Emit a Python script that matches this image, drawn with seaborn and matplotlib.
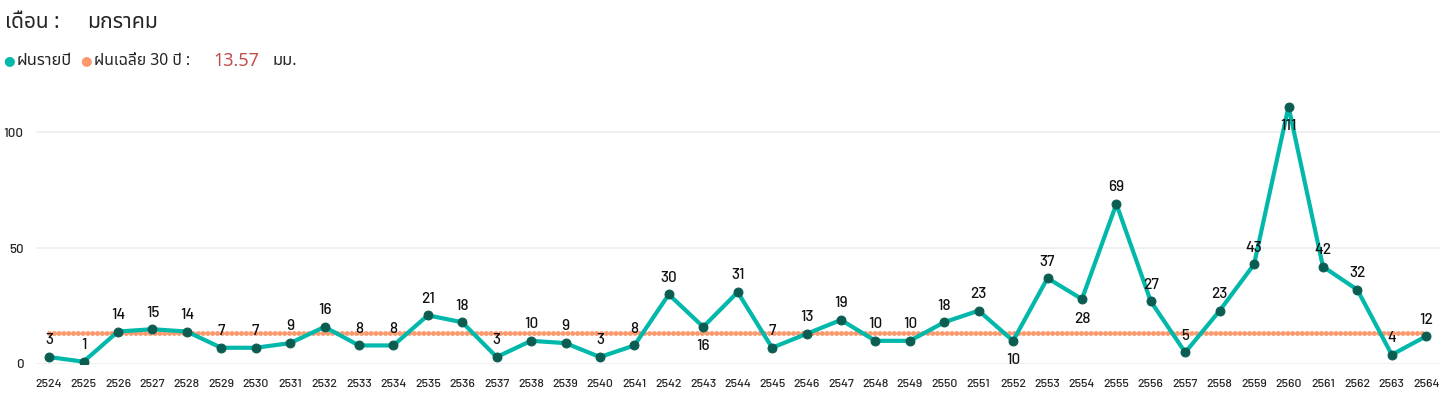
import matplotlib
matplotlib.use("Agg")
import matplotlib.pyplot as plt
import seaborn as sns
import pandas as pd
import numpy as np

# ---------------- data ----------------
years = [str(y) for y in range(2524, 2565)]
rain = [3, 1, 14, 15, 14, 7, 7, 9, 16, 8, 8, 21, 18, 3, 10, 9, 3, 8, 30, 16,
        31, 7, 13, 19, 10, 10, 18, 23, 10, 37, 28, 69, 27, 5, 23, 43, 111, 42,
        32, 4, 12]
avg30 = 13.57
month_label = "มกราคม"
title_label = "เดือน :"
legend_labels = ["ฝนรายปี", "ฝนเฉลี่ย 30 ปี :"]
unit_label = "มม."
y_ticks = [0, 50, 100]

# label placement (style): 1 = above, -1 = below
label_pos = [1] * len(years)
for yv in ["2543", "2552", "2554", "2560"]:
    label_pos[years.index(yv)] = -1

sns.set_theme(style="white")
NUM = ["Barlow", "DejaVu Sans"]
THAI = ["Noto Sans Thai", "Noto Sans", "DejaVu Sans"]
plt.rcParams["font.family"] = NUM

TEAL = "#01B8AA"
DARK = "#0B5D52"
ORANGE = "#FC9A6E"
RED = "#C0504D"
TXT = "#252423"

df = pd.DataFrame({"year": years, "rain": rain, "avg": [avg30] * len(years)})
df["x"] = np.arange(len(years))

fig = plt.figure(figsize=(14.43, 3.93), dpi=100)
ax = fig.add_axes([36 / 1443, 29 / 393, 1404 / 1443, 269 / 393])

for yt in y_ticks:
    ax.axhline(yt, color="#EDEDED", lw=1.2, zorder=0)

sns.lineplot(data=df, x="x", y="rain", ax=ax, color=TEAL, lw=3.0,
             marker="o", markersize=6.4, markerfacecolor=DARK,
             markeredgecolor=DARK, zorder=3)
sns.lineplot(data=df, x="x", y="avg", ax=ax, color=ORANGE, lw=3.6,
             linestyle=(0, (0.01, 0.95)), dash_capstyle="round", zorder=2.5)

for xi, v, p in zip(df["x"], rain, label_pos):
    ax.annotate(f"{v:.0f}", (xi, v), xytext=(0, 12 if p > 0 else -14),
                textcoords="offset points", ha="center",
                va="center", fontsize=11, fontweight="medium",
                color="#111111", zorder=5)

ax.set_xlim(-0.38, len(years) - 1 + 0.4)
ax.set_ylim(0, 116)
ax.set_xticks(df["x"])
ax.set_xticklabels(years, fontsize=8.8, color=TXT, fontweight="medium")
ax.set_yticks(y_ticks)
ax.set_yticklabels([str(t) for t in y_ticks], fontsize=9.6, color=TXT,
                   fontweight="medium")
ax.tick_params(axis="x", length=0, pad=10.5)
ax.tick_params(axis="y", length=0, pad=9)
ax.set_xlabel("")
ax.set_ylabel("")
for s in ax.spines.values():
    s.set_visible(False)

# header
fig.text(5 / 1443, 1 - 22 / 393, title_label, fontsize=15, color=TXT,
         va="center", family=THAI)
fig.text(87 / 1443, 1 - 22 / 393, month_label, fontsize=15.3, color=TXT,
         va="center", family=THAI)

ly = 1 - 61 / 393
fig.text(9 / 1443, ly, "●", fontsize=9.5, color=TEAL, va="center", ha="center",
         family=["DejaVu Sans"])
fig.text(17 / 1443, ly, legend_labels[0], fontsize=11.8, color=TXT,
         va="center", family=THAI)
fig.text(86 / 1443, ly, "●", fontsize=9.5, color=ORANGE, va="center", ha="center",
         family=["DejaVu Sans"])
fig.text(94 / 1443, ly, legend_labels[1], fontsize=11.3, color=TXT,
         va="center", family=THAI)
fig.text(213 / 1443, ly, f"{avg30:.2f}", fontsize=13, color=RED,
         va="center", family=THAI)
fig.text(273 / 1443, ly, unit_label, fontsize=11.8, color=TXT,
         va="center", family=THAI)

fig.savefig("out.png", dpi=100)
